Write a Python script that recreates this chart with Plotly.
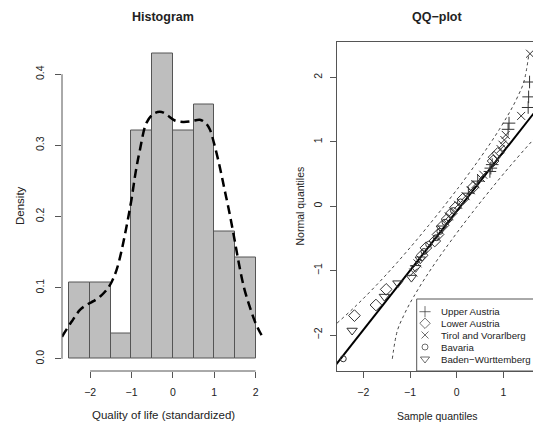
import plotly.graph_objects as go

# ---------------- data: histogram ----------------
hist_breaks = [-2.5, -2.0, -1.5, -1.0, -0.5, 0.0, 0.5, 1.0, 1.5, 2.0]
hist_density = [0.107, 0.107, 0.036, 0.321, 0.429, 0.321, 0.357, 0.179, 0.143]

dens_x = [-2.68, -2.45, -2.24, -2.05, -1.92, -1.75, -1.6, -1.48, -1.36, -1.24, -1.12,
          -1.0, -0.9, -0.795, -0.634, -0.45, -0.272, -0.1, 0.05, 0.249, 0.45, 0.651,
          0.78, 0.89, 1.0, 1.13, 1.25, 1.37, 1.49, 1.61, 1.73, 1.855, 1.98, 2.10, 2.18]
dens_y = [0.031, 0.052, 0.069, 0.077, 0.081, 0.088, 0.097, 0.108, 0.125, 0.152, 0.186,
          0.224, 0.262, 0.294, 0.332, 0.345, 0.347, 0.341, 0.335, 0.333, 0.334, 0.336,
          0.332, 0.323, 0.302, 0.271, 0.238, 0.205, 0.168, 0.130, 0.098, 0.074, 0.053,
          0.038, 0.030]

# ---------------- data: QQ plot ----------------
group_names = ["Upper Austria", "Lower Austria", "Tirol and Vorarlberg",
               "Bavaria", "Baden\u2212Württemberg"]

qq_sample = [-2.43, -2.24, -2.19, -1.73, -1.55, -1.51, -1.26, -0.97, -0.93, -0.88,
             -0.84, -0.78, -0.74, -0.70, -0.66, -0.60, -0.47, -0.44, -0.40, -0.36,
             -0.33, -0.29, -0.25, -0.21, -0.17, -0.12, -0.07, -0.03, 0.03, 0.08,
             0.13, 0.19, 0.25, 0.30, 0.35, 0.40, 0.45, 0.52, 0.57, 0.71,
             0.73, 0.76, 0.78, 0.80, 0.88, 0.94, 0.98, 1.02, 1.05, 1.10,
             1.12, 1.38, 1.53, 1.54, 1.56, 1.57]
qq_normal = [-2.369, -1.930, -1.699, -1.534, -1.403, -1.291, -1.195, -1.108, -1.029, -0.956,
             -0.887, -0.823, -0.762, -0.703, -0.647, -0.592, -0.540, -0.489, -0.439, -0.390,
             -0.342, -0.295, -0.248, -0.203, -0.157, -0.112, -0.067, -0.022, 0.022, 0.067,
             0.112, 0.157, 0.203, 0.248, 0.295, 0.342, 0.390, 0.439, 0.489, 0.540,
             0.592, 0.647, 0.703, 0.762, 0.823, 0.887, 0.956, 1.029, 1.108, 1.195,
             1.291, 1.403, 1.534, 1.699, 1.930, 2.369]
qq_group = [3, 4, 1, 1, 4, 1, 4, 4, 2, 4,
            2, 4, 1, 3, 1, 3, 1, 3, 1, 3,
            4, 1, 3, 1, 2, 1, 3, 1, 2, 3,
            1, 2, 0, 2, 1, 2, 0, 2, 2, 0,
            0, 0, 1, 1, 1, 2, 2, 2, 2, 0,
            0, 2, 0, 0, 0, 2]

line_intercept = -0.077
line_slope = 0.922

env_normal = [-2.369, -1.930, -1.699, -1.534, -1.403, -1.195, -1.029, -0.887, -0.703, -0.540,
              -0.295, -0.022, 0.022, 0.295, 0.540, 0.703, 0.887, 1.029, 1.195, 1.403,
              1.534, 1.699, 1.930, 2.369]
env_left = [-3.595, -2.752, -2.384, -2.140, -1.958, -1.679, -1.467, -1.291, -1.070, -0.878,
            -0.599, -0.296, -0.249, 0.042, 0.293, 0.456, 0.634, 0.766, 0.914, 1.087,
            1.189, 1.303, 1.437, 1.546]
env_right = [-1.379, -1.270, -1.136, -1.022, -0.920, -0.747, -0.599, -0.467, -0.289, -0.126,
             0.125, 0.416, 0.463, 0.766, 1.045, 1.237, 1.458, 1.634, 1.846, 2.125,
             2.307, 2.551, 2.919, 3.762]

# ---------------- styling / layout constants ----------------
W, H = 533, 423
FONT = "Liberation Sans, Arial, Helvetica, sans-serif"
TXT = "#222222"
AX = "#555555"
symbols = ["cross-thin-open", "diamond-open", "x-thin-open", "circle-open", "triangle-down-open"]
sizes = [9, 9, 8, 6, 9]

top_px, bot_px = 41.5, 371.0
ydom = [1 - bot_px / H, 1 - top_px / H]
hx_dom = [62 / W, 263 / W]
hx_rng = [-2.68, 2.18]
hy_rng = [-0.01716, 0.446]
qx_dom = [336.7 / W, 1.0]
qx_rng = [-2.57, -2.57 + (W - 336.7) / 46.7]
qy_rng = [-2.559, 2.559]


def to_paper(v, rng, dom):
    return dom[0] + (v - rng[0]) / (rng[1] - rng[0]) * (dom[1] - dom[0])


fig = go.Figure()

# histogram bars
centers = [(hist_breaks[i] + hist_breaks[i + 1]) / 2 for i in range(len(hist_density))]
widths = [hist_breaks[i + 1] - hist_breaks[i] for i in range(len(hist_density))]
fig.add_trace(go.Bar(x=centers, y=hist_density, width=widths,
                     marker=dict(color="#BEBEBE", line=dict(color="#555555", width=1)),
                     xaxis="x", yaxis="y", showlegend=False))
fig.add_trace(go.Scatter(x=dens_x, y=dens_y, mode="lines", line_shape="spline",
                         line=dict(color="black", width=2.5, dash="9px,5px"),
                         xaxis="x", yaxis="y", showlegend=False))

# QQ envelopes and line
fig.add_trace(go.Scatter(x=env_left, y=env_normal, mode="lines", line_shape="spline",
                         line=dict(color="#444444", width=1, dash="3px,3px"),
                         xaxis="x2", yaxis="y2", showlegend=False))
fig.add_trace(go.Scatter(x=env_right, y=env_normal, mode="lines", line_shape="spline",
                         line=dict(color="#444444", width=1, dash="3px,3px"),
                         xaxis="x2", yaxis="y2", showlegend=False))
lx = [qx_rng[0] - 0.5, qx_rng[1] + 0.5]
fig.add_trace(go.Scatter(x=lx, y=[line_intercept + line_slope * v for v in lx], mode="lines",
                         line=dict(color="black", width=2),
                         xaxis="x2", yaxis="y2", showlegend=False))

# QQ points per group
for g, name in enumerate(group_names):
    xs = [qq_sample[i] for i in range(len(qq_sample)) if qq_group[i] == g]
    ys = [qq_normal[i] for i in range(len(qq_normal)) if qq_group[i] == g]
    fig.add_trace(go.Scatter(x=xs, y=ys, mode="markers", name=name,
                             marker=dict(symbol=symbols[g], size=sizes[g], color="#333333",
                                         line=dict(color="#333333", width=1)),
                             xaxis="x2", yaxis="y2", showlegend=False, cliponaxis=True))

# manual legend (pixel-coordinate overlay axes)
leg_rows = [311.7, 323.3, 335.0, 347.0, 359.0]
fig.add_trace(go.Scatter(x=[425] * 5, y=leg_rows, mode="markers",
                         marker=dict(symbol=symbols, size=[8, 8, 7, 6, 8], color="#333333",
                                     line=dict(color="#333333", width=1)),
                         xaxis="x3", yaxis="y3", showlegend=False))

tickfont = dict(family=FONT, size=10.5, color=TXT)
common = dict(showgrid=False, zeroline=False, ticks="outside", ticklen=6, tickcolor=AX,
              tickwidth=1, tickfont=tickfont)

fig.update_layout(
    width=W, height=H, margin=dict(l=0, r=0, t=0, b=0),
    paper_bgcolor="white", plot_bgcolor="rgba(0,0,0,0)",
    font=dict(family=FONT, color=TXT),
    bargap=0,
    xaxis=dict(domain=hx_dom, range=hx_rng, tickvals=[-2, -1, 0, 1, 2], showline=False,
               anchor="y", ticklabelstandoff=5, **common),
    yaxis=dict(domain=ydom, range=hy_rng, tickvals=[0, 0.1, 0.2, 0.3, 0.4],
               ticktext=["0.0", "0.1", "0.2", "0.3", "0.4"], tickangle=-90, showline=False,
               anchor="x", ticklabelstandoff=7, **common),
    xaxis2=dict(domain=qx_dom, range=qx_rng, tickvals=[-2, -1, 0, 1], showline=True,
                linecolor=AX, linewidth=1, mirror=True, anchor="y2", ticklabelstandoff=5, **common),
    yaxis2=dict(domain=ydom, range=qy_rng, tickvals=[-2, -1, 0, 1, 2], tickangle=-90,
                showline=True, linecolor=AX, linewidth=1, anchor="x2", ticklabelstandoff=4, **common),
    xaxis3=dict(domain=[0, 1], range=[0, W], visible=False, anchor="y3", fixedrange=True),
    yaxis3=dict(domain=[0, 1], range=[H, 0], visible=False, anchor="x3", fixedrange=True),
)

# R-style axis lines for the histogram (from first to last tick)
hy0 = to_paper(0.0, hy_rng, ydom)
hy4 = to_paper(0.4, hy_rng, ydom)
hxm2 = to_paper(-2, hx_rng, hx_dom)
hxp2 = to_paper(2, hx_rng, hx_dom)
shapes = [
    dict(type="line", xref="paper", yref="paper", x0=hx_dom[0], x1=hx_dom[0], y0=hy0, y1=hy4,
         line=dict(color=AX, width=1)),
    dict(type="line", xref="paper", yref="paper", x0=hxm2, x1=hxp2, y0=ydom[0], y1=ydom[0],
         line=dict(color=AX, width=1)),
    # legend box
    dict(type="rect", xref="paper", yref="paper", x0=416.7 / W, x1=1.05, y0=ydom[0],
         y1=1 - 299 / H, line=dict(color=AX, width=1), fillcolor="rgba(0,0,0,0)", layer="below"),
]
fig.update_layout(shapes=shapes)

ann = []
def A(text, x, y, size=11.5, bold=False, angle=0, xanchor="center"):
    ann.append(dict(text=("<b>%s</b>" % text) if bold else text, x=x, y=y, xref="paper",
                    yref="paper", showarrow=False, textangle=angle, xanchor=xanchor,
                    yanchor="middle", font=dict(family=FONT, size=size, color=TXT)))

A("Histogram", 163 / W, 1 - 17 / H, size=12.5, bold=True)
A("QQ\u2212plot", 437 / W, 1 - 17 / H, size=12.5, bold=True)
A("Density", 20 / W, 1 - 206 / H, angle=-90)
A("Quality of life (standardized)", 163 / W, 1 - 415 / H)
A("Sample quantiles", 437 / W, 1 - 415.5 / H, size=10.5)
A("Normal quantiles", 299.5 / W, 1 - 206 / H, angle=-90, size=10.5)
for r, name in zip(leg_rows, group_names):
    A(name, 439 / W, 1 - r / H, size=9.7, xanchor="left")
fig.update_layout(annotations=ann)

fig.write_html("out.html", config={"displayModeBar": False},
               post_script="document.body.style.margin='0';document.body.style.overflow='hidden';")
